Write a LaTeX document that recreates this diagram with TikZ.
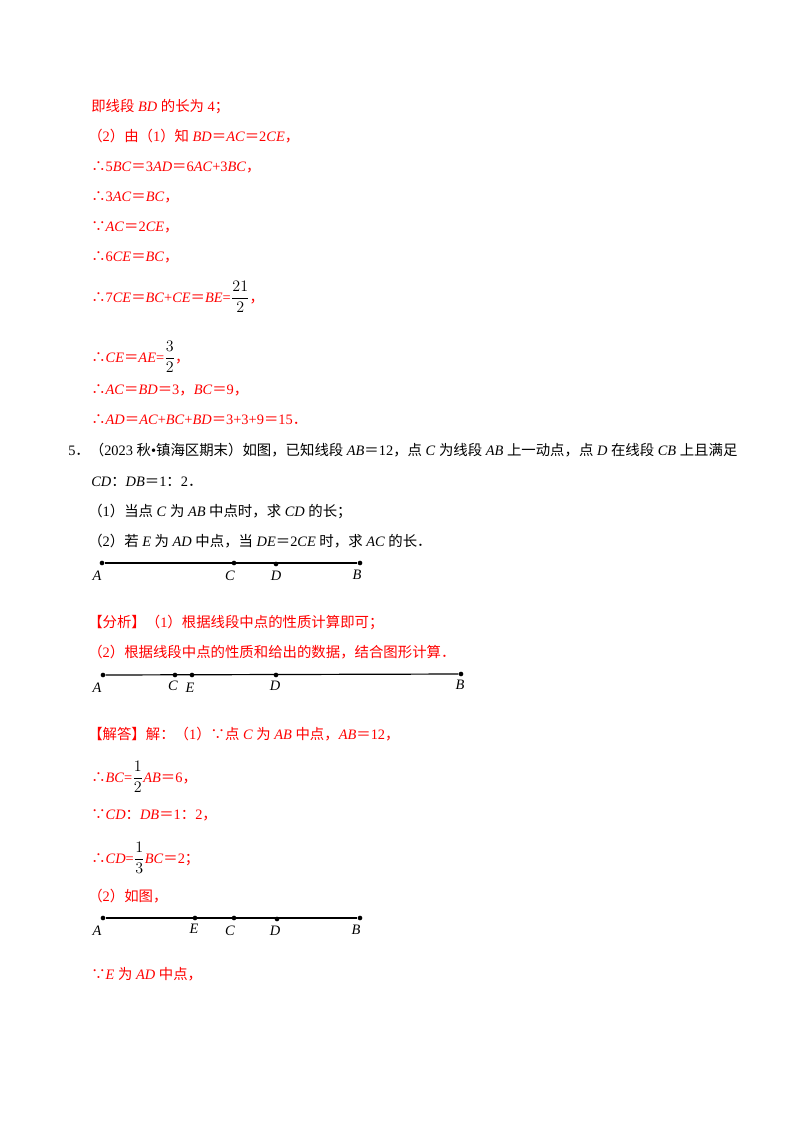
\documentclass[tikz,border=0pt]{standalone}
\usepackage{amsmath}
\usepackage{fontspec}
\setmainfont{Liberation Serif}
\newfontfamily\cjkfont{Noto Sans CJK SC}
\XeTeXinterchartokenstate=1
\newXeTeXintercharclass\cjkclass
\newcount\cc
\cc="4E00 \loop\XeTeXcharclass\cc=\cjkclass \advance\cc 1 \ifnum\cc<"A000 \repeat
\cc="3000 \loop\XeTeXcharclass\cc=\cjkclass \advance\cc 1 \ifnum\cc<"3040 \repeat
\cc="FF00 \loop\XeTeXcharclass\cc=\cjkclass \advance\cc 1 \ifnum\cc<"FFF0 \repeat
\XeTeXcharclass"2234=\cjkclass
\XeTeXcharclass"2235=\cjkclass
\XeTeXinterchartoks 0 \cjkclass = {\begingroup\cjkfont}
\XeTeXinterchartoks 4095 \cjkclass = {\begingroup\cjkfont}
\XeTeXinterchartoks \cjkclass 0 = {\endgroup}
\XeTeXinterchartoks \cjkclass 4095 = {\endgroup}
\newcommand\vr[1]{\textit{#1}}
\newcommand\fr[2]{{\color{black}\fontsize{13pt}{14pt}\selectfont$\dfrac{#1}{#2}$}}
\tikzset{txt/.style={anchor=base west,inner sep=0pt,font=\fontsize{10.8pt}{12pt}\selectfont},
 rt/.style={txt,text=red},
 seg/.style={line width=0.9pt},
 dot/.style={circle,fill=black,inner sep=0pt,minimum size=3.5pt},
 lab/.style={anchor=base,inner sep=0pt,font=\fontsize{10.8pt}{12pt}\selectfont\itshape}}
\begin{document}
\begin{tikzpicture}[x=0.75pt,y=-0.75pt]
\useasboundingbox (0,0) rectangle (800,1132);
\node[rt] (l1) at (91,111) {即线段 \vr{BD} 的长为 4；};
\node[rt] (l2) at (88,141) {（2）由（1）知 \vr{BD}＝\vr{AC}＝2\vr{CE}，};
\node[rt] (l3) at (91,171) {∴5\vr{BC}＝3\vr{AD}＝6\vr{AC}+3\vr{BC}，};
\node[rt] (l4) at (91,201) {∴3\vr{AC}＝\vr{BC}，};
\node[rt] (l5) at (91,231) {∵\vr{AC}＝2\vr{CE}，};
\node[rt] (l6) at (91,261) {∴6\vr{CE}＝\vr{BC}，};
\node[rt] (l7) at (91,302) {∴7\vr{CE}＝\vr{BC}+\vr{CE}＝\vr{BE}=\fr{21}{2}，};
\node[rt] (l8) at (91,362) {∴\vr{CE}＝\vr{AE}=\fr{3}{2}，};
\node[rt] (l9) at (91,394) {∴\vr{AC}＝\vr{BD}＝3，\vr{BC}＝9，};
\node[rt] (l10) at (91,424) {∴\vr{AD}＝\vr{AC}+\vr{BC}+\vr{BD}＝3+3+9＝15．};
\node[txt] (q1) at (68,455) {5．（2023 秋•镇海区期末）如图，已知线段 \vr{AB}＝12，点 \vr{C} 为线段 \vr{AB} 上一动点，点 \vr{D} 在线段 \vr{CB} 上且满足};
\node[txt] (q2) at (91,486) {\vr{CD}：\vr{DB}＝1：2．};
\node[txt] (q3) at (88,516) {（1）当点 \vr{C} 为 \vr{AB} 中点时，求 \vr{CD} 的长；};
\node[txt] (q4) at (88,546) {（2）若 \vr{E} 为 \vr{AD} 中点，当 \vr{DE}＝2\vr{CE} 时，求 \vr{AC} 的长．};
% diagram 1
\node[dot] (a1) at (102,563) {}; \node[dot] (c1) at (234,563) {};
\node[dot] (d1) at (276,564) {}; \node[dot] (b1) at (360,563) {};
\draw[seg] (a1) -- (b1);
\node[lab] at (97,580) {A}; \node[lab] at (230,580) {C};
\node[lab] at (276,580) {D}; \node[lab] at (357,579) {B};
\node[rt] (f1) at (88,627) {【分析】（1）根据线段中点的性质计算即可；};
\node[rt] (f2) at (88,657) {（2）根据线段中点的性质和给出的数据，结合图形计算．};
% diagram 2
\node[dot] (a2) at (103,675) {}; \node[dot] (c2) at (175,675) {};
\node[dot] (e2) at (192,675) {}; \node[dot] (d2) at (276,675) {};
\node[dot] (b2) at (461,674) {};
\draw[seg] (a2) -- (b2);
\node[lab] at (97,692) {A}; \node[lab] at (173,690) {C};
\node[lab] at (190,692) {E}; \node[lab] at (275,690) {D}; \node[lab] at (460,689) {B};
\node[rt] (s1) at (88,739) {【解答】解：（1）∵点 \vr{C} 为 \vr{AB} 中点，\vr{AB}＝12，};
\node[rt] (s2) at (91,782) {∴\vr{BC}=\fr{1}{2}\vr{AB}＝6，};
\node[rt] (s3) at (91,819) {∵\vr{CD}：\vr{DB}＝1：2，};
\node[rt] (s4) at (91,863) {∴\vr{CD}=\fr{1}{3}\vr{BC}＝2；};
\node[rt] (s5) at (88,901) {（2）如图，};
% diagram 3
\node[dot] (a3) at (103,918) {}; \node[dot] (e3) at (195,918) {};
\node[dot] (c3) at (234,918) {}; \node[dot] (d3) at (277,919) {};
\node[dot] (b3) at (360,918) {};
\draw[seg] (a3) -- (b3);
\node[lab] at (97,935) {A}; \node[lab] at (194,933) {E};
\node[lab] at (230,935) {C}; \node[lab] at (275,935) {D}; \node[lab] at (356,934) {B};
\node[rt] (s6) at (91,979) {∵\vr{E} 为 \vr{AD} 中点，};
\end{tikzpicture}
\end{document}
